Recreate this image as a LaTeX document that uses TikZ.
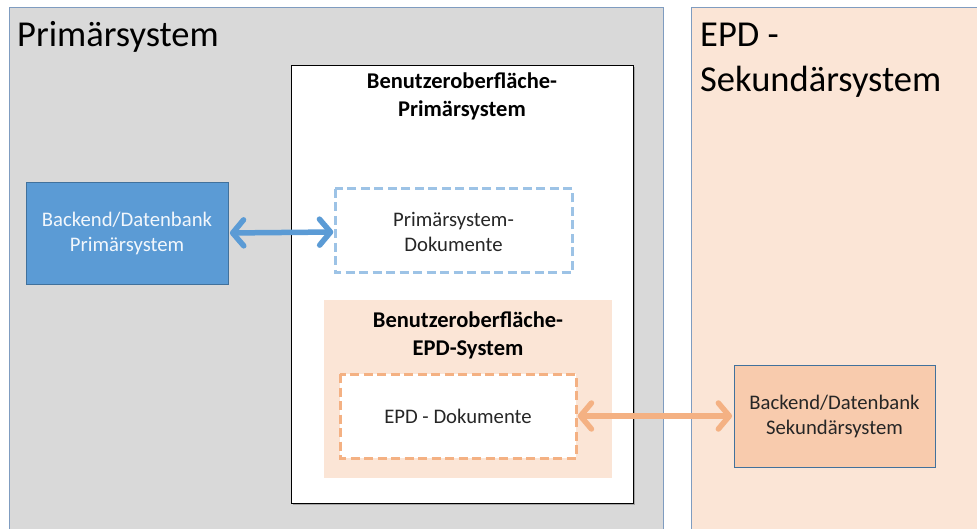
\documentclass[tikz,border=0pt]{standalone}
\usepackage{fontspec}
\setmainfont{Carlito}
\usetikzlibrary{arrows.meta}
\definecolor{panelgray}{HTML}{D9D9D9}
\definecolor{panelpeach}{HTML}{FBE5D6}
\definecolor{panelborder}{HTML}{7F9CC0}
\definecolor{blueback}{HTML}{5B9BD5}
\definecolor{bluebackborder}{HTML}{41719C}
\definecolor{bluedash}{HTML}{9DC3E6}
\definecolor{orangeback}{HTML}{F8CBAD}
\definecolor{orangedash}{HTML}{F4B183}
\definecolor{textdark}{HTML}{262626}
\tikzset{
  panel/.style={draw=panelborder, line width=1pt},
  boxtitle/.style={font=\fontsize{22.5}{28}\selectfont\bfseries, align=center, text=black},
  boxtext/.style={font=\fontsize{20.7}{25}\selectfont, align=center, text=textdark},
  bigtitle/.style={font=\fontsize{36.5}{45}\selectfont, align=left, anchor=base west, inner sep=0pt, text=black},
  dashbox/.style={line width=3pt, dash pattern=on 9pt off 4.5pt, fill=white},
  conn/.style={line width=5.5pt, {Straight Barb[length=11pt,width=26pt,round]}-{Straight Barb[length=11pt,width=26pt,round]}, shorten <=1.5pt, shorten >=1.5pt}
}
\begin{document}
\begin{tikzpicture}[x=1pt,y=-1pt]
\useasboundingbox (0,0) rectangle (977,529);
\clip (0,0) rectangle (977,529);
\fill[white] (0,0) rectangle (977,529);
% panels
\draw[panel, fill=panelgray] (9,8) rectangle (663,540);
\draw[panel, fill=panelpeach] (691,8) rectangle (990,540);
\node[bigtitle] (t1) at (17,47) {Primärsystem};
\node[bigtitle] (t2) at (700,92) {EPD -\\Sekundärsystem};
% white UI box
\fill[gray!70] (293,67) rectangle (635,505);
\draw[black, line width=0.8pt, fill=white] (291,65) rectangle (633,503);
\node[boxtitle] (ui1) at (462,96) {Benutzeroberfläche-\\Primärsystem};
% dashed blue box
\draw[dashbox, draw=bluedash] (335,189) rectangle (572,273);
\node[boxtext, minimum width=237pt, minimum height=84pt] (pdoc) at (453.5,232) {Primärsystem-\\Dokumente};
% peach EPD UI box
\fill[panelpeach] (324,300) rectangle (612,478);
\node[boxtitle] (ui2) at (468,335) {Benutzeroberfläche-\\EPD-System};
\draw[dashbox, draw=orangedash] (340,374) rectangle (576,458);
\node[boxtext, minimum width=236pt, minimum height=84pt] (edoc) at (458,416) {EPD - Dokumente};
% backends
\node[draw=bluebackborder, fill=blueback, line width=0.8pt, minimum width=202pt, minimum height=102pt, boxtext, text=white!92!blueback] (bp) at (127,233) {Backend/Datenbank\\Primärsystem};
\node[draw=bluebackborder, fill=orangeback, line width=0.8pt, minimum width=201pt, minimum height=102pt, boxtext] (bs) at (834.5,416) {Backend/Datenbank\\Sekundärsystem};
% connectors
\draw[conn, draw=blueback] (bp.east) -- (pdoc.west);
\draw[conn, draw=orangedash] (edoc.east) -- (bs.west);
\end{tikzpicture}
\end{document}
